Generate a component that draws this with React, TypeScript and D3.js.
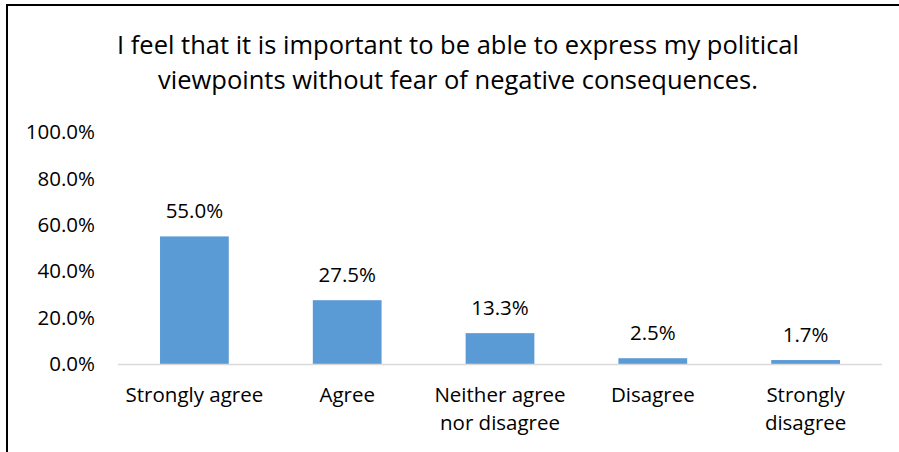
import React, { useEffect, useRef } from 'react';
import * as d3 from 'd3';

const titleLines = [
  'I feel that it is important to be able to express my political',
  'viewpoints without fear of negative consequences.',
];
const categories = ['Strongly agree', 'Agree', 'Neither agree nor disagree', 'Disagree', 'Strongly disagree'];
const categoryLines = [
  ['Strongly agree'],
  ['Agree'],
  ['Neither agree', 'nor disagree'],
  ['Disagree'],
  ['Strongly', 'disagree'],
];
const values = [0.55, 0.275, 0.133, 0.025, 0.017];
const yTicks = [0, 0.2, 0.4, 0.6, 0.8, 1.0];

const W = 899;
const H = 452;
const FONT = '"Open Sans", Lato, sans-serif';

const App: React.FC = () => {
  const ref = useRef<SVGSVGElement>(null);

  useEffect(() => {
    if (!ref.current) return;
    const svg = d3.select(ref.current);
    svg.selectAll('*').remove();

    const plot = { left: 118, right: 882, top: 132, bottom: 364 };

    svg.append('rect')
      .attr('width', W).attr('height', H).attr('fill', '#fff');

    // chart frame (right and bottom edges fall outside the picture)
    svg.append('rect')
      .attr('x', 7).attr('y', 5)
      .attr('width', W + 20).attr('height', H + 20)
      .attr('fill', 'none').attr('stroke', '#000').attr('stroke-width', 2);

    // title
    const title = svg.append('text')
      .attr('text-anchor', 'middle')
      .attr('font-family', FONT)
      .attr('font-size', 25.5)
      .attr('fill', '#000');
    titleLines.forEach((t, i) => {
      title.append('tspan').attr('x', 458).attr('y', 54 + i * 35).text(t);
    });

    const x = d3.scaleBand<string>()
      .domain(categories)
      .range([plot.left, plot.right])
      .paddingInner(0.55)
      .paddingOuter(0.275);

    const y = d3.scaleLinear().domain([0, 1]).range([plot.bottom, plot.top]);
    const fmt = d3.format('.1%');

    // y tick labels
    svg.append('g')
      .selectAll('text')
      .data(yTicks)
      .join('text')
      .attr('x', 95)
      .attr('y', d => y(d))
      .attr('dy', '0.35em')
      .attr('text-anchor', 'end')
      .attr('font-family', FONT)
      .attr('font-size', 20.5)
      .attr('fill', '#000')
      .text(d => fmt(d));

    // bars
    svg.append('g')
      .selectAll('rect')
      .data(values)
      .join('rect')
      .attr('x', (d, i) => x(categories[i])!)
      .attr('y', d => y(d))
      .attr('width', x.bandwidth())
      .attr('height', d => plot.bottom - y(d))
      .attr('fill', '#5B9BD5');

    // baseline
    svg.append('line')
      .attr('x1', plot.left).attr('x2', plot.right)
      .attr('y1', plot.bottom + 0.5).attr('y2', plot.bottom + 0.5)
      .attr('stroke', '#D9D9D9').attr('stroke-width', 1.5);

    // value labels
    svg.append('g')
      .selectAll('text')
      .data(values)
      .join('text')
      .attr('x', (d, i) => x(categories[i])! + x.bandwidth() / 2)
      .attr('y', d => y(d) - 18)
      .attr('text-anchor', 'middle')
      .attr('font-family', FONT)
      .attr('font-size', 20.5)
      .attr('fill', '#000')
      .text(d => fmt(d));

    // category labels
    const cat = svg.append('g');
    categoryLines.forEach((lines, i) => {
      const cx = x(categories[i])! + x.bandwidth() / 2;
      const t = cat.append('text')
        .attr('text-anchor', 'middle')
        .attr('font-family', FONT)
        .attr('font-size', 20.5)
        .attr('fill', '#000');
      lines.forEach((l, j) => {
        t.append('tspan').attr('x', cx).attr('y', 402 + j * 28).text(l);
      });
    });
  }, []);

  return (
    <svg
      ref={ref}
      width={W}
      height={H}
      style={{ position: 'absolute', left: 0, top: 0, display: 'block' }}
    />
  );
};

export default App;
